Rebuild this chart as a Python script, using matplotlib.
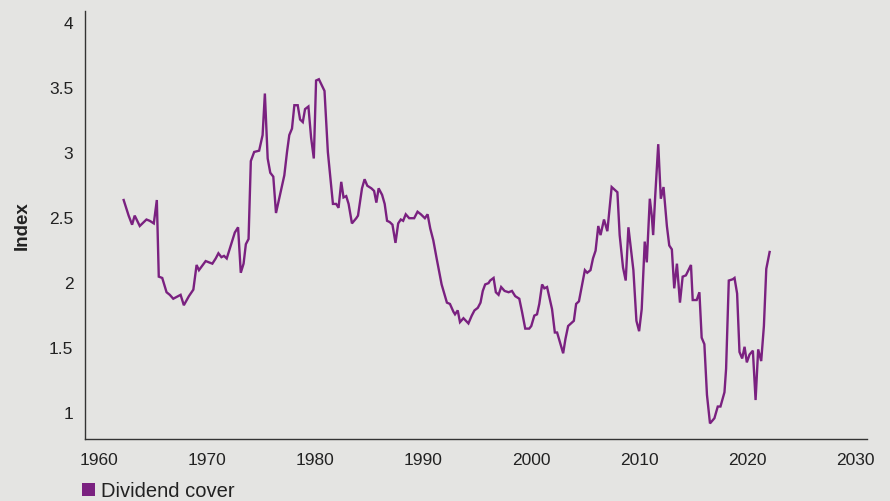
import matplotlib
matplotlib.use("Agg")
import matplotlib.pyplot as plt
from matplotlib.patches import Patch

plt.rcParams['font.family'] = ['Liberation Sans', 'DejaVu Sans']

# dividend cover
years = [
    1962.26, 1962.72, 1963.04, 1963.28, 1963.75, 1964.37, 1964.67, 1965.05, 1965.33, 1965.51,
    1965.83, 1966.23, 1966.53, 1966.85, 1967.53, 1967.83, 1968.30, 1968.71, 1969.01, 1969.23,
    1969.85, 1970.47, 1970.78, 1971.03, 1971.31, 1971.55, 1971.80, 1972.55, 1972.85, 1973.10,
    1973.36, 1973.57, 1973.82, 1974.03, 1974.34, 1974.80, 1975.12, 1975.33, 1975.59, 1975.83,
    1976.11, 1976.36, 1977.13, 1977.38, 1977.59, 1977.84, 1978.06, 1978.37, 1978.59, 1978.84,
    1979.05, 1979.36, 1979.61, 1979.86, 1980.07, 1980.33, 1980.85, 1981.16, 1981.63, 1981.93,
    1982.15, 1982.40, 1982.61, 1982.86, 1983.08, 1983.39, 1983.79, 1983.95, 1984.32, 1984.56,
    1984.81, 1985.19, 1985.44, 1985.65, 1985.86, 1986.18, 1986.42, 1986.64, 1986.89, 1987.14,
    1987.42, 1987.67, 1987.91, 1988.13, 1988.37, 1988.69, 1989.15, 1989.46, 1989.77, 1990.14,
    1990.39, 1990.64, 1990.92, 1991.23, 1991.69, 1991.94, 1992.18, 1992.46, 1992.78, 1992.93,
    1993.18, 1993.39, 1993.71, 1994.17, 1994.48, 1994.73, 1995.04, 1995.29, 1995.50, 1995.72,
    1996.03, 1996.18, 1996.50, 1996.71, 1996.96, 1997.20, 1997.52, 1997.89, 1998.20, 1998.50,
    1998.88, 1999.13, 1999.43, 1999.80, 1999.99, 2000.27, 2000.52, 2000.73, 2000.99, 2001.20,
    2001.45, 2001.91, 2002.17, 2002.38, 2002.69, 2002.94, 2003.15, 2003.40, 2003.93, 2004.14,
    2004.40, 2004.95, 2005.17, 2005.47, 2005.70, 2005.94, 2006.19, 2006.40, 2006.72, 2007.03,
    2007.43, 2007.96, 2008.17, 2008.48, 2008.73, 2008.98, 2009.44, 2009.72, 2009.97, 2010.21,
    2010.49, 2010.68, 2010.96, 2011.14, 2011.27, 2011.46, 2011.74, 2011.98, 2012.23, 2012.54,
    2012.76, 2013.00, 2013.22, 2013.47, 2013.75, 2014.00, 2014.30, 2014.77, 2014.93, 2015.30,
    2015.55, 2015.76, 2016.01, 2016.25, 2016.53, 2016.94, 2017.25, 2017.50, 2017.87, 2018.02,
    2018.27, 2018.64, 2018.80, 2019.04, 2019.26, 2019.51, 2019.73, 2019.94, 2020.19, 2020.50,
    2020.75, 2020.99, 2021.27, 2021.52, 2021.74, 2022.05,
]
cover = [
    2.63, 2.51, 2.44, 2.51, 2.43, 2.48, 2.47, 2.45, 2.63, 2.04,
    2.03, 1.92, 1.90, 1.87, 1.90, 1.82, 1.89, 1.94, 2.13, 2.09,
    2.16, 2.14, 2.18, 2.22, 2.19, 2.20, 2.18, 2.38, 2.42, 2.07,
    2.14, 2.29, 2.33, 2.93, 3.00, 3.01, 3.13, 3.45, 2.95, 2.84,
    2.81, 2.53, 2.82, 3.00, 3.13, 3.18, 3.36, 3.36, 3.25, 3.23,
    3.33, 3.35, 3.11, 2.95, 3.55, 3.56, 3.47, 3.00, 2.60, 2.60,
    2.57, 2.77, 2.65, 2.66, 2.60, 2.45, 2.49, 2.51, 2.72, 2.79,
    2.74, 2.72, 2.70, 2.61, 2.72, 2.67, 2.60, 2.47, 2.46, 2.44,
    2.30, 2.45, 2.48, 2.47, 2.52, 2.49, 2.49, 2.54, 2.52, 2.49,
    2.52, 2.41, 2.32, 2.18, 1.98, 1.91, 1.84, 1.83, 1.77, 1.75,
    1.78, 1.69, 1.72, 1.68, 1.74, 1.78, 1.80, 1.84, 1.93, 1.98,
    1.99, 2.01, 2.03, 1.92, 1.90, 1.96, 1.93, 1.92, 1.93, 1.89,
    1.87, 1.77, 1.64, 1.64, 1.66, 1.74, 1.75, 1.83, 1.98, 1.95,
    1.96, 1.79, 1.61, 1.61, 1.52, 1.45, 1.56, 1.66, 1.70, 1.83,
    1.85, 2.09, 2.07, 2.09, 2.18, 2.24, 2.43, 2.36, 2.48, 2.39,
    2.73, 2.69, 2.36, 2.11, 2.01, 2.42, 2.09, 1.70, 1.62, 1.79,
    2.31, 2.15, 2.64, 2.51, 2.36, 2.66, 3.06, 2.64, 2.73, 2.43,
    2.28, 2.25, 1.95, 2.14, 1.84, 2.04, 2.05, 2.13, 1.86, 1.86,
    1.92, 1.57, 1.52, 1.13, 0.91, 0.95, 1.04, 1.04, 1.15, 1.33,
    2.01, 2.02, 2.03, 1.91, 1.46, 1.41, 1.50, 1.38, 1.44, 1.47,
    1.09, 1.48, 1.39, 1.66, 2.10, 2.23,
]

x_ticks = [1960, 1970, 1980, 1990, 2000, 2010, 2020, 2030]
y_ticks = [1, 1.5, 2, 2.5, 3, 3.5, 4]
y_tick_labels = ['1', '1.5', '2', '2.5', '3', '3.5', '4']

bg = '#e4e4e2'
purple = '#7a2180'

fig = plt.figure(figsize=(8.9, 5.02), dpi=100, facecolor=bg)
ax = fig.add_axes([0.095, 0.1235, 0.879, 0.8525], facecolor=bg)

ax.plot(years, cover, color=purple, linewidth=1.7, solid_joinstyle='miter')

ax.set_xlim(1958.64, 2031.05)
ax.set_ylim(0.79, 4.085)
ax.set_xticks(x_ticks)
ax.set_yticks(y_ticks)
ax.set_yticklabels(y_tick_labels)
ax.tick_params(length=0, labelsize=12.5, colors='#222222')
ax.tick_params(axis='y', pad=8)
ax.tick_params(axis='x', pad=9)

for side in ['top', 'right']:
    ax.spines[side].set_visible(False)
for side in ['left', 'bottom']:
    ax.spines[side].set_color('#333333')
    ax.spines[side].set_linewidth(1.0)

ax.set_ylabel('Index', fontsize=13.5, fontweight='bold', color='#222222', labelpad=13)

handle = Patch(facecolor=purple, edgecolor='none', label='Dividend cover')
fig.legend(handles=[handle], loc='center left', bbox_to_anchor=(0.092, 0.02),
           frameon=False, fontsize=14.5, handlelength=0.65, handleheight=0.65,
           handletextpad=0.3, borderpad=0, borderaxespad=0, labelcolor='#222222')

fig.savefig('out.png', dpi=100, facecolor=bg)
